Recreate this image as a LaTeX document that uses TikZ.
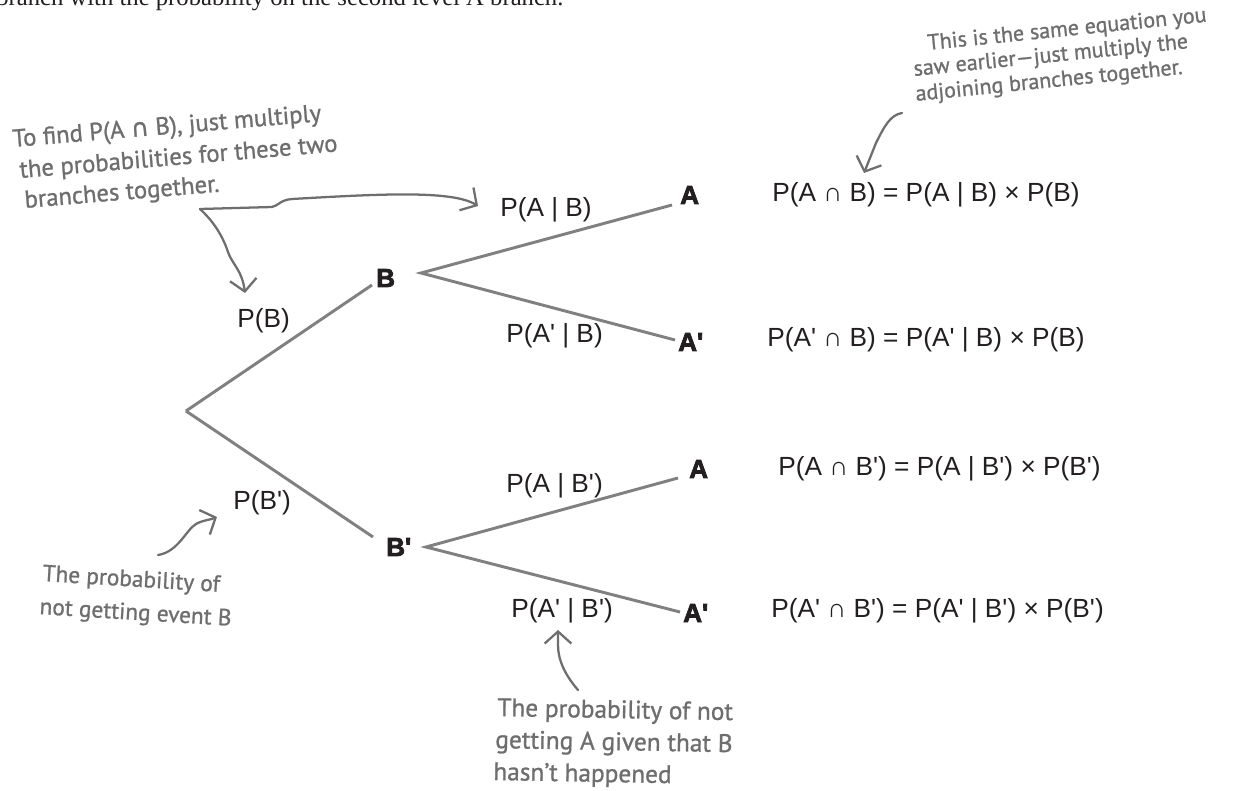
\documentclass[tikz,border=0pt]{standalone}
\usepackage{fontspec}
\setmainfont{Liberation Sans}
\newfontfamily\seriffont{Liberation Serif}
\newfontfamily\heavyfont[BoldFeatures={FakeBold=3}]{Liberation Sans}
\newfontfamily\handfont[FakeBold=1]{PT Sans}
\newfontfamily\symfont[FakeBold=1]{DejaVu Sans}
\usetikzlibrary{arrows.meta}
\definecolor{ink}{HTML}{231F20}
\definecolor{linegray}{HTML}{808080}
\definecolor{handgray}{HTML}{6E6E6E}
\newcommand{\pr}{\textquotesingle}
\begin{document}
\begin{tikzpicture}[x=0.75pt,y=-0.75pt,
  eqtext/.style={font=\fontsize{19.7}{24}\selectfont, text=ink, inner sep=0pt, anchor=base west},
  evlabel/.style={font=\heavyfont\bfseries\fontsize{19.5}{22}\selectfont, text=ink, inner sep=0pt, anchor=base west},
  handtext/.style={font=\handfont\fontsize{18.5}{22}\selectfont, text=handgray, inner sep=0pt, anchor=base west},
  branch/.style={draw=linegray, line width=2.2pt},
  note/.style={draw=handgray, line width=1.7pt, line cap=round, line join=round},
  notetip/.style={-{Straight Barb[length=9pt,width=20pt]}}
]
\useasboundingbox (0,0) rectangle (1236,791);
\fill[white] (0,0) rectangle (1236,791);

% cut-off line of body text at the top
\node[font=\seriffont\fontsize{18.5}{20}\selectfont, text=ink, inner sep=0pt, anchor=base west] (cut) at (-4,6) {branch with the probability on the second level A branch.};

% tree coordinates
\coordinate (root) at (186,411);
\coordinate (Bin) at (372,285);
\coordinate (Bout) at (421,273);
\coordinate (A1) at (672,205);
\coordinate (A1n) at (675,340);
\coordinate (Bnin) at (373,537);
\coordinate (Bnout) at (426,547);
\coordinate (A2) at (678,478);
\coordinate (A2n) at (680,612);

\draw[branch] (root) -- (Bin);
\draw[branch] (root) -- (Bnin);
\draw[branch] (A1) -- (Bout) -- (A1n);
\draw[branch] (A2) -- (Bnout) -- (A2n);

% event labels
\node[evlabel] (evB) at (376,287) {B};
\node[evlabel] (evBn) at (386,556) {B\pr};
\node[evlabel] (evA1) at (680,204) {A};
\node[evlabel] (evA1n) at (678,351) {A\pr};
\node[evlabel] (evA2) at (689,478) {A};
\node[evlabel] (evA2n) at (683,622) {A\pr};

% branch probabilities
\node[eqtext] (pB) at (237,328) {P(B)};
\node[eqtext] (pBn) at (233,510) {P(B\pr)};
\node[eqtext] (pAB) at (500,217) {P(A | B)};
\node[eqtext] (pAnB) at (506,343) {P(A\pr\ | B)};
\node[eqtext] (pABn) at (506,493) {P(A | B\pr)};
\node[eqtext] (pAnBn) at (511,617) {P(A\pr\ | B\pr)};

% equations
\node[eqtext] (eq1) at (772,202) {P(A ∩ B) = P(A | B) × P(B)};
\node[eqtext] (eq2) at (767,347) {P(A\pr\ ∩ B) = P(A\pr\ | B) × P(B)};
\node[eqtext] (eq3) at (778,476) {P(A ∩ B\pr) = P(A | B\pr) × P(B\pr)};
\node[eqtext] (eq4) at (771,617) {P(A\pr\ ∩ B\pr) = P(A\pr\ | B\pr) × P(B\pr)};

% top-left note
\node[handtext, rotate=4.8] (tl1) at (13,147) {To find P(A {\symfont∩} B), just multiply};
\node[handtext, rotate=4.8] (tl2) at (20,178) {the probabilities for these two};
\node[handtext, rotate=4.8] (tl3) at (25,208) {branches together.};
\coordinate (tlstart) at (200,209);
\coordinate (tltipA) at (478,206);
\coordinate (tltipB) at (245,293);
\draw[note, notetip] (tlstart) -- (272,207) .. controls (278,206) and (280,200) .. (292,199)
   .. controls (380,194) and (452,190) .. (tltipA);
\draw[note, notetip] (tlstart) .. controls (212,220) and (222,234) .. (228,252)
   .. controls (232,264) and (242,270) .. (tltipB);

% top-right note
\node[handtext, font=\handfont\fontsize{16.5}{20}\selectfont, rotate=5.8] (tr1) at (928,50) {This is the same equation you};
\node[handtext, font=\handfont\fontsize{16.5}{20}\selectfont, rotate=5.8] (tr2) at (914,76) {saw earlier—just multiply the};
\node[handtext, font=\handfont\fontsize{16.5}{20}\selectfont, rotate=5.8] (tr3) at (916,101) {adjoining branches together.};
\coordinate (trstart) at (902,113);
\coordinate (trtip) at (864,173);
\draw[note, notetip] (trstart) .. controls (890,115) and (884,127) .. (876,143) -- (trtip);

% bottom-left note
\node[handtext, font=\handfont\fontsize{17.5}{20}\selectfont, rotate=-3.5] (bl1) at (42,581) {The probability of};
\node[handtext, font=\handfont\fontsize{17.5}{20}\selectfont, rotate=-3.5] (bl2) at (39,614) {not getting event B};
\coordinate (blstart) at (158,555);
\coordinate (bltip) at (217,517);
\draw[note, notetip] (blstart) .. controls (178,552) and (186,530) .. (196,524)
   .. controls (203,520) and (210,520) .. (bltip);

% bottom-centre note
\node[handtext, font=\handfont\fontsize{19}{22}\selectfont, rotate=-1] (bc1) at (497,716) {The probability of not};
\node[handtext, font=\handfont\fontsize{19}{22}\selectfont, rotate=-1] (bc2) at (495,748) {getting A given that B};
\node[handtext, font=\handfont\fontsize{19}{22}\selectfont, rotate=-1] (bc3) at (493,780) {hasn’t happened};
\coordinate (bcstart) at (578,690);
\coordinate (bctip) at (558,630);
\draw[note, notetip] (bcstart) .. controls (565,675) and (558,660) .. (558,645) -- (bctip);
\end{tikzpicture}
\end{document}
